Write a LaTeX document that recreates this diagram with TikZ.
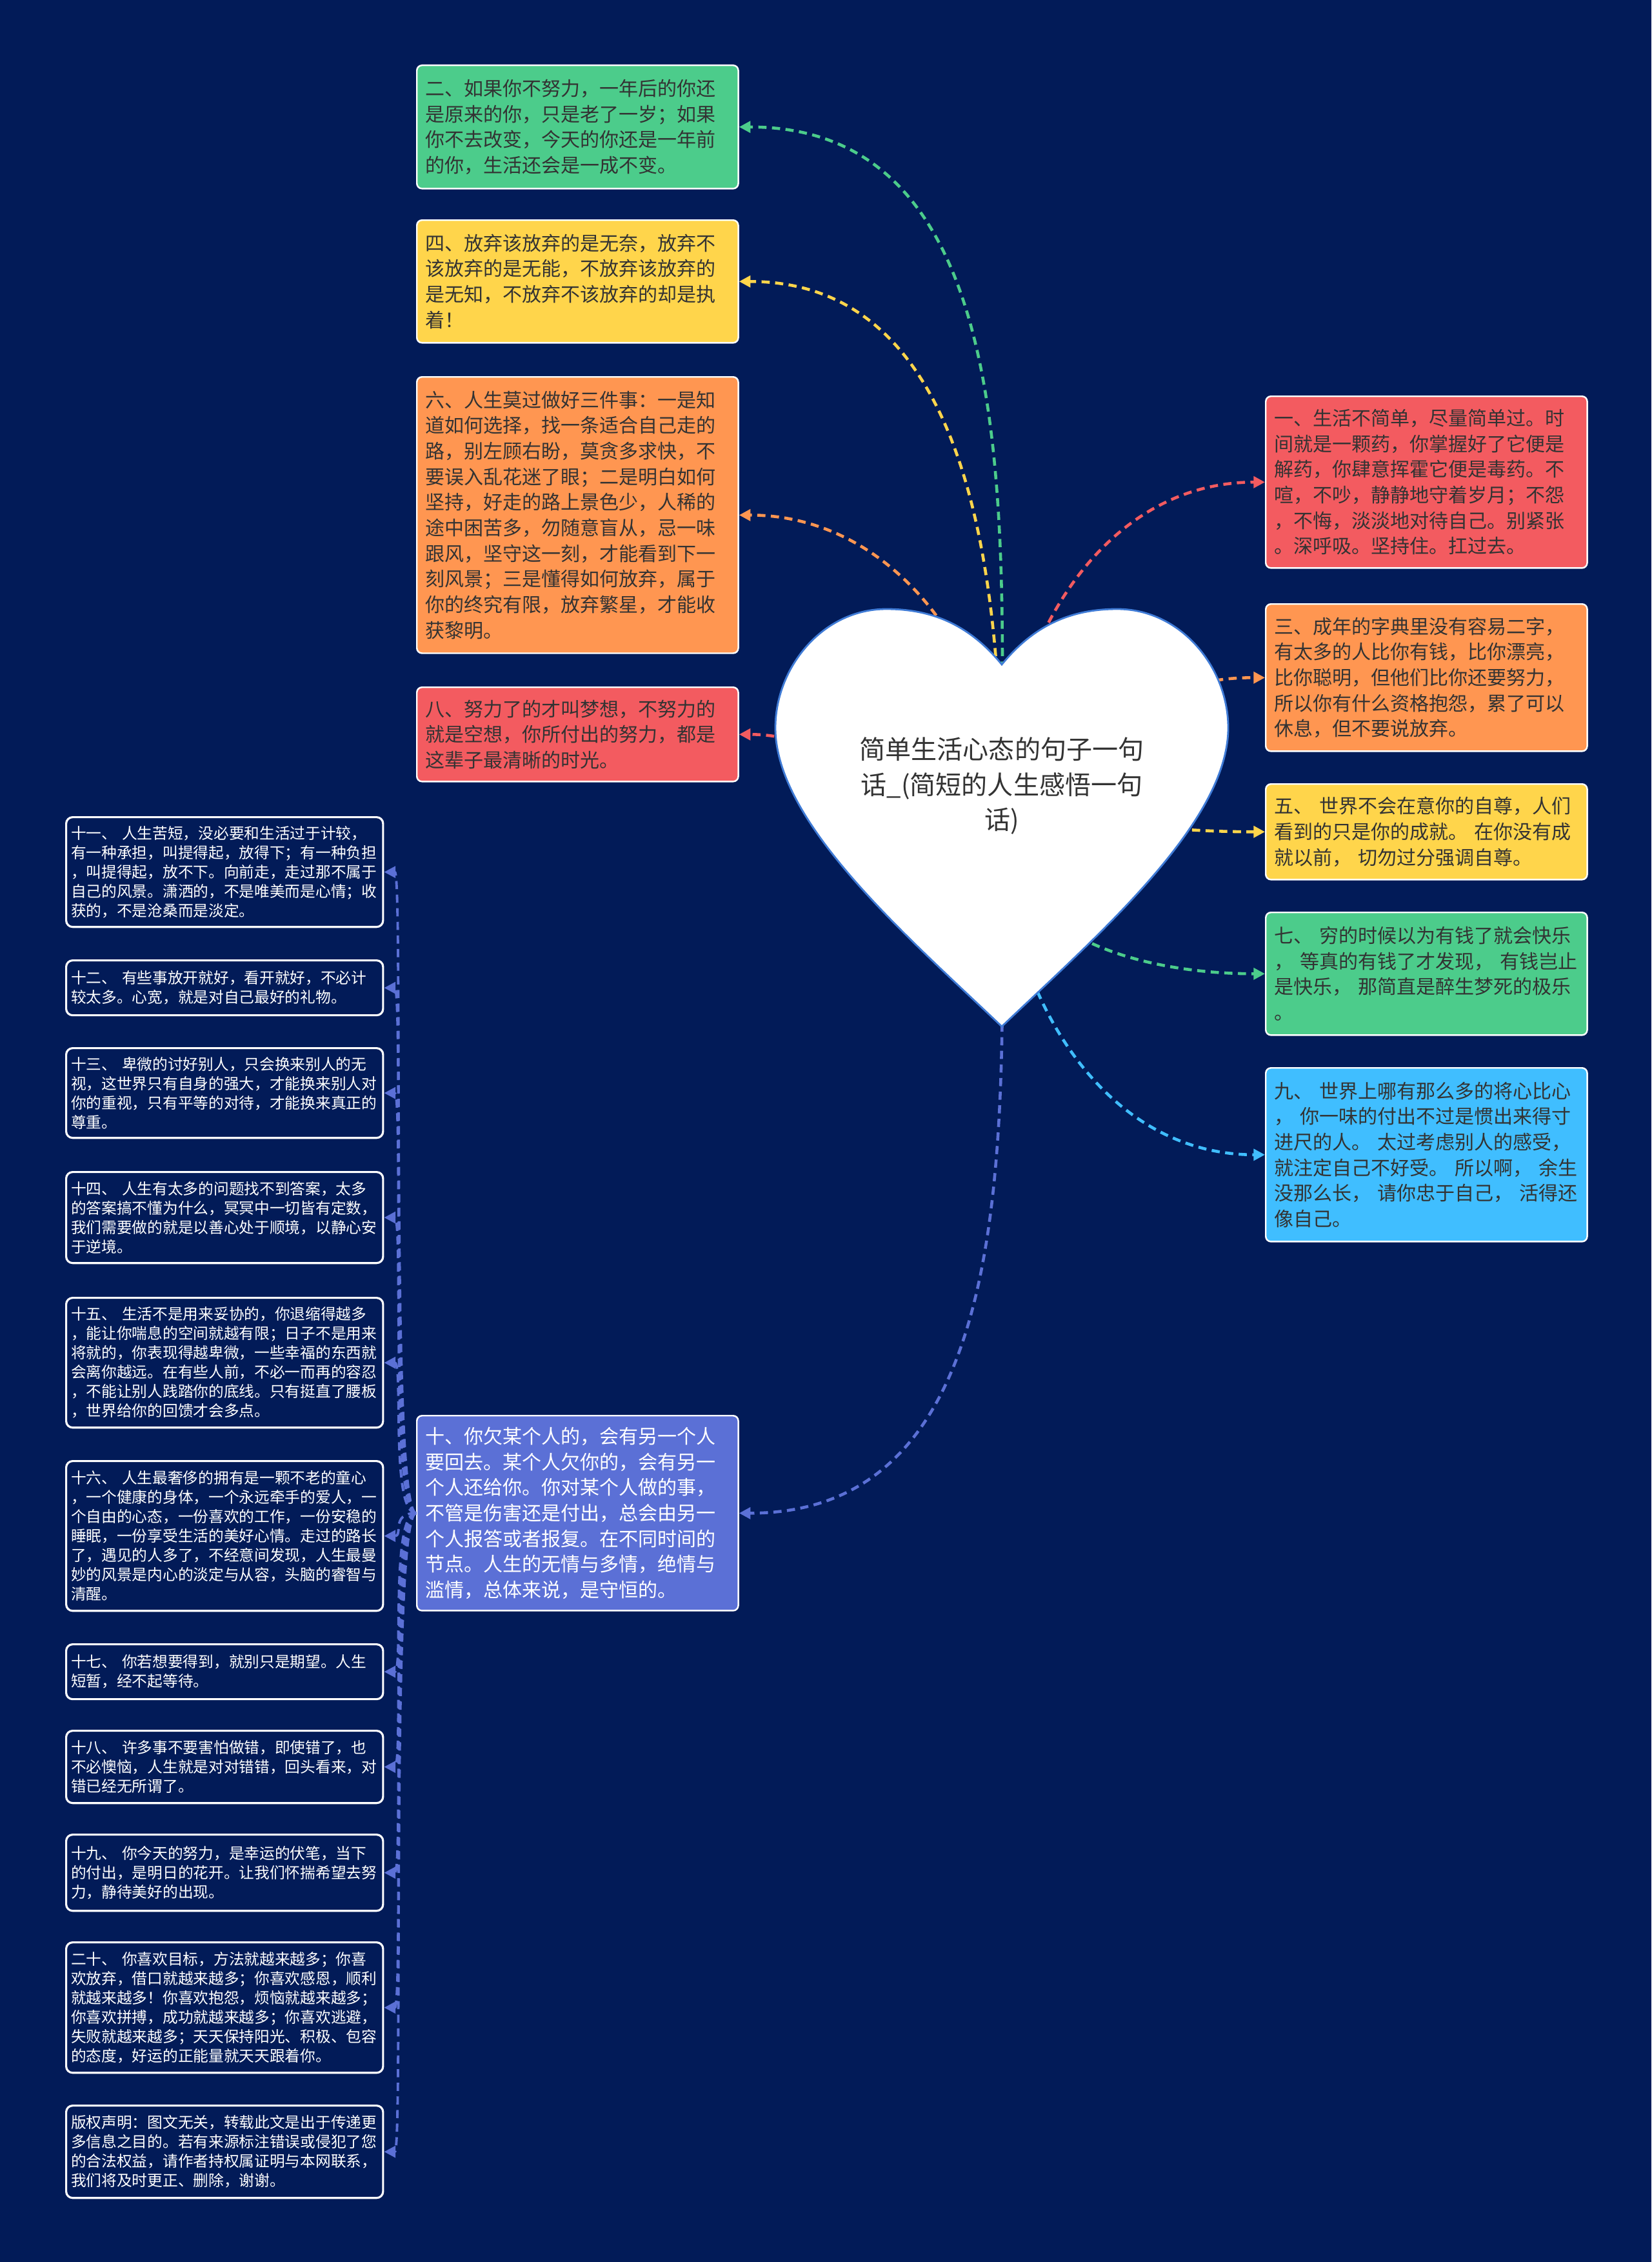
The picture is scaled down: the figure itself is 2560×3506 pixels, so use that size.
\documentclass[tikz,border=0pt]{standalone}
\usepackage{fontspec}
\setmainfont{Noto Sans CJK SC}
\usetikzlibrary{arrows.meta}
\definecolor{bg-navy}{HTML}{021B58}
\definecolor{quote-green}{HTML}{4CCC8B}
\definecolor{quote-yellow}{HTML}{FFD54B}
\definecolor{quote-orange}{HTML}{FF9651}
\definecolor{quote-red}{HTML}{F35B60}
\definecolor{quote-sky}{HTML}{40BEFF}
\definecolor{quote-violet}{HTML}{5B70D6}
\definecolor{heart-border}{HTML}{3F7BD6}
\definecolor{ink}{HTML}{333333}
\tikzset{
  quote-node/.style={
    anchor=north west, draw=white, line width=0.7pt, rounded corners=0.08cm,
    text width=4.72cm, inner xsep=0.13cm, inner ysep=0pt, align=left,
    text=ink, font=\fontsize{8.54pt}{11.27pt}\selectfont
  },
  tip-node/.style={
    anchor=north west, draw=white, line width=0.9pt, rounded corners=0.1cm, fill=bg-navy,
    text width=4.76cm, inner xsep=0.075cm, inner ysep=0pt, align=left,
    text=white, font=\fontsize{6.74pt}{8.54pt}\selectfont
  },
  title-node/.style={align=center, text=ink, font=\fontsize{11.4pt}{15.4pt}\selectfont},
  heart/.style={fill=white, draw=heart-border, line width=0.8pt},
  flow/.style={-{Triangle[length=5pt, width=5pt]}, line width=1.3pt, dash pattern=on 3.6pt off 2.4pt},
  subflow/.style={flow, draw=quote-violet, line width=1.1pt}
}

\begin{document}
\begin{tikzpicture}[x=0.01cm, y=-0.01cm]
  \fill[bg-navy] (0, 0) rectangle (2560, 3506);

  \node[quote-node, fill=quote-green, minimum height=1.91cm] (b2) at (645, 100)
    {二、如果你不努力，一年后的你还\\是原来的你，只是老了一岁；如果\\你不去改变，今天的你还是一年前\\的你，生活还会是一成不变。};
  \node[quote-node, fill=quote-yellow, minimum height=1.90cm] (b4) at (645, 340)
    {四、放弃该放弃的是无奈，放弃不\\该放弃的是无能，不放弃该放弃的\\是无知，不放弃不该放弃的却是执\\着！};
  \node[quote-node, fill=quote-orange, minimum height=4.28cm] (b6) at (645, 583)
    {六、人生莫过做好三件事：一是知\\道如何选择，找一条适合自己走的\\路，别左顾右盼，莫贪多求快，不\\要误入乱花迷了眼；二是明白如何\\坚持，好走的路上景色少，人稀的\\途中困苦多，勿随意盲从，忌一味\\跟风，坚守这一刻，才能看到下一\\刻风景；三是懂得如何放弃，属于\\你的终究有限，放弃繁星，才能收\\获黎明。};
  \node[quote-node, fill=quote-red, minimum height=1.46cm] (b8) at (645, 1064)
    {八、努力了的才叫梦想，不努力的\\就是空想，你所付出的努力，都是\\这辈子最清晰的时光。};
  \node[quote-node, fill=quote-violet, text=white, minimum height=3.02cm] (b10) at (645, 2193)
    {十、你欠某个人的，会有另一个人\\要回去。某个人欠你的，会有另一\\个人还给你。你对某个人做的事，\\不管是伤害还是付出，总会由另一\\个人报答或者报复。在不同时间的\\节点。人生的无情与多情，绝情与\\滥情，总体来说，是守恒的。};

  \node[quote-node, fill=quote-red, minimum height=2.66cm] (b1) at (1961, 613)
    {一、生活不简单，尽量简单过。时\\间就是一颗药，你掌握好了它便是\\解药，你肆意挥霍它便是毒药。不\\喧，不吵，静静地守着岁月；不怨\\，不悔，淡淡地对待自己。别紧张\\。深呼吸。坚持住。扛过去。};
  \node[quote-node, fill=quote-orange, minimum height=2.28cm] (b3) at (1961, 935)
    {三、成年的字典里没有容易二字，\\有太多的人比你有钱，比你漂亮，\\比你聪明，但他们比你还要努力，\\所以你有什么资格抱怨，累了可以\\休息，但不要说放弃。};
  \node[quote-node, fill=quote-yellow, minimum height=1.48cm] (b5) at (1961, 1214)
    {五、 世界不会在意你的自尊，人们\\看到的只是你的成就。 在你没有成\\就以前， 切勿过分强调自尊。};
  \node[quote-node, fill=quote-green, minimum height=1.90cm] (b7) at (1961, 1413)
    {七、 穷的时候以为有钱了就会快乐\\， 等真的有钱了才发现， 有钱岂止\\是快乐， 那简直是醉生梦死的极乐\\。};
  \node[quote-node, fill=quote-sky, minimum height=2.69cm] (b9) at (1961, 1654)
    {九、 世界上哪有那么多的将心比心\\， 你一味的付出不过是惯出来得寸\\进尺的人。 太过考虑别人的感受，\\就注定自己不好受。 所以啊， 余生\\没那么长， 请你忠于自己， 活得还\\像自己。};

  \node[tip-node, minimum height=1.70cm] (b11) at (101, 1265)
    {十一、 人生苦短，没必要和生活过于计较，\\有一种承担，叫提得起，放得下；有一种负担\\，叫提得起，放不下。向前走，走过那不属于\\自己的风景。潇洒的，不是唯美而是心情；收\\获的，不是沧桑而是淡定。};
  \node[tip-node, minimum height=0.85cm] (b12) at (101, 1487)
    {十二、 有些事放开就好，看开就好，不必计\\较太多。心宽，就是对自己最好的礼物。};
  \node[tip-node, minimum height=1.39cm] (b13) at (101, 1623)
    {十三、 卑微的讨好别人，只会换来别人的无\\视，这世界只有自身的强大，才能换来别人对\\你的重视，只有平等的对待，才能换来真正的\\尊重。};
  \node[tip-node, minimum height=1.41cm] (b14) at (101, 1815)
    {十四、 人生有太多的问题找不到答案，太多\\的答案搞不懂为什么，冥冥中一切皆有定数，\\我们需要做的就是以善心处于顺境，以静心安\\于逆境。};
  \node[tip-node, minimum height=2.01cm] (b15) at (101, 2010)
    {十五、 生活不是用来妥协的，你退缩得越多\\，能让你喘息的空间就越有限；日子不是用来\\将就的，你表现得越卑微，一些幸福的东西就\\会离你越远。在有些人前，不必一而再的容忍\\，不能让别人践踏你的底线。只有挺直了腰板\\，世界给你的回馈才会多点。};
  \node[tip-node, minimum height=2.32cm] (b16) at (101, 2263)
    {十六、 人生最奢侈的拥有是一颗不老的童心\\，一个健康的身体，一个永远牵手的爱人，一\\个自由的心态，一份喜欢的工作，一份安稳的\\睡眠，一份享受生活的美好心情。走过的路长\\了，遇见的人多了，不经意间发现，人生最曼\\妙的风景是内心的淡定与从容，头脑的睿智与\\清醒。};
  \node[tip-node, minimum height=0.85cm] (b17) at (101, 2547)
    {十七、 你若想要得到，就别只是期望。人生\\短暂，经不起等待。};
  \node[tip-node, minimum height=1.12cm] (b18) at (101, 2681)
    {十八、 许多事不要害怕做错，即使错了，也\\不必懊恼，人生就是对对错错，回头看来，对\\错已经无所谓了。};
  \node[tip-node, minimum height=1.18cm] (b19) at (101, 2842)
    {十九、 你今天的努力，是幸运的伏笔，当下\\的付出，是明日的花开。让我们怀揣希望去努\\力，静待美好的出现。};
  \node[tip-node, minimum height=2.02cm] (b20) at (101, 3009)
    {二十、 你喜欢目标，方法就越来越多；你喜\\欢放弃，借口就越来越多；你喜欢感恩，顺利\\就越来越多！你喜欢抱怨，烦恼就越来越多；\\你喜欢拼搏，成功就越来越多；你喜欢逃避，\\失败就越来越多；天天保持阳光、积极、包容\\的态度，好运的正能量就天天跟着你。};
  \node[tip-node, minimum height=1.43cm] (bcr) at (101, 3262)
    {版权声明：图文无关，转载此文是出于传递更\\多信息之目的。若有来源标注错误或侵犯了您\\的合法权益，请作者持权属证明与本网联系，\\我们将及时更正、删除，谢谢。};

  \coordinate (hub) at (1553, 1270);

  \draw[flow, draw=quote-green]  (hub) to[out=90, in=0]    (b2.east);
  \draw[flow, draw=quote-yellow] (hub) to[out=90, in=0]    (b4.east);
  \draw[flow, draw=quote-orange] (hub) to[out=90, in=0]    (b6.east);
  \draw[flow, draw=quote-red]    (hub) to[out=180, in=0]   (b8.east);
  \draw[flow, draw=quote-violet] (hub) to[out=-90, in=0]   (b10.east);
  \draw[flow, draw=quote-red]    (hub) to[out=90, in=180]  (b1.west);
  \draw[flow, draw=quote-orange] (hub) to[out=0, in=180, looseness=1.6] (b3.west);
  \draw[flow, draw=quote-yellow] (hub) to[out=0, in=180]   (b5.west);
  \draw[flow, draw=quote-green]  (hub) to[out=-90, in=180] (b7.west);
  \draw[flow, draw=quote-sky]    (hub) to[out=-90, in=180] (b9.west);

  \foreach \tip in {b11, b12, b13, b14, b15, b16, b17, b18, b19, b20, bcr}
    \draw[subflow] (b10.west) .. controls +(-40, 0) and +(30, 0) .. (\tip.east);

  \draw[heart] (1553, 1030)
    .. controls (1500, 965) and (1440, 944) .. (1374, 944)
    .. controls (1275, 944) and (1202, 1035) .. (1202, 1128)
    .. controls (1202, 1275) and (1405, 1450) .. (1553, 1591)
    .. controls (1701, 1450) and (1904, 1275) .. (1904, 1128)
    .. controls (1904, 1035) and (1831, 944) .. (1732, 944)
    .. controls (1666, 944) and (1606, 965) .. cycle;
  \node[title-node] (title) at (1553, 1218) {简单生活心态的句子一句\\话\_(简短的人生感悟一句\\话)};
\end{tikzpicture}
\end{document}
